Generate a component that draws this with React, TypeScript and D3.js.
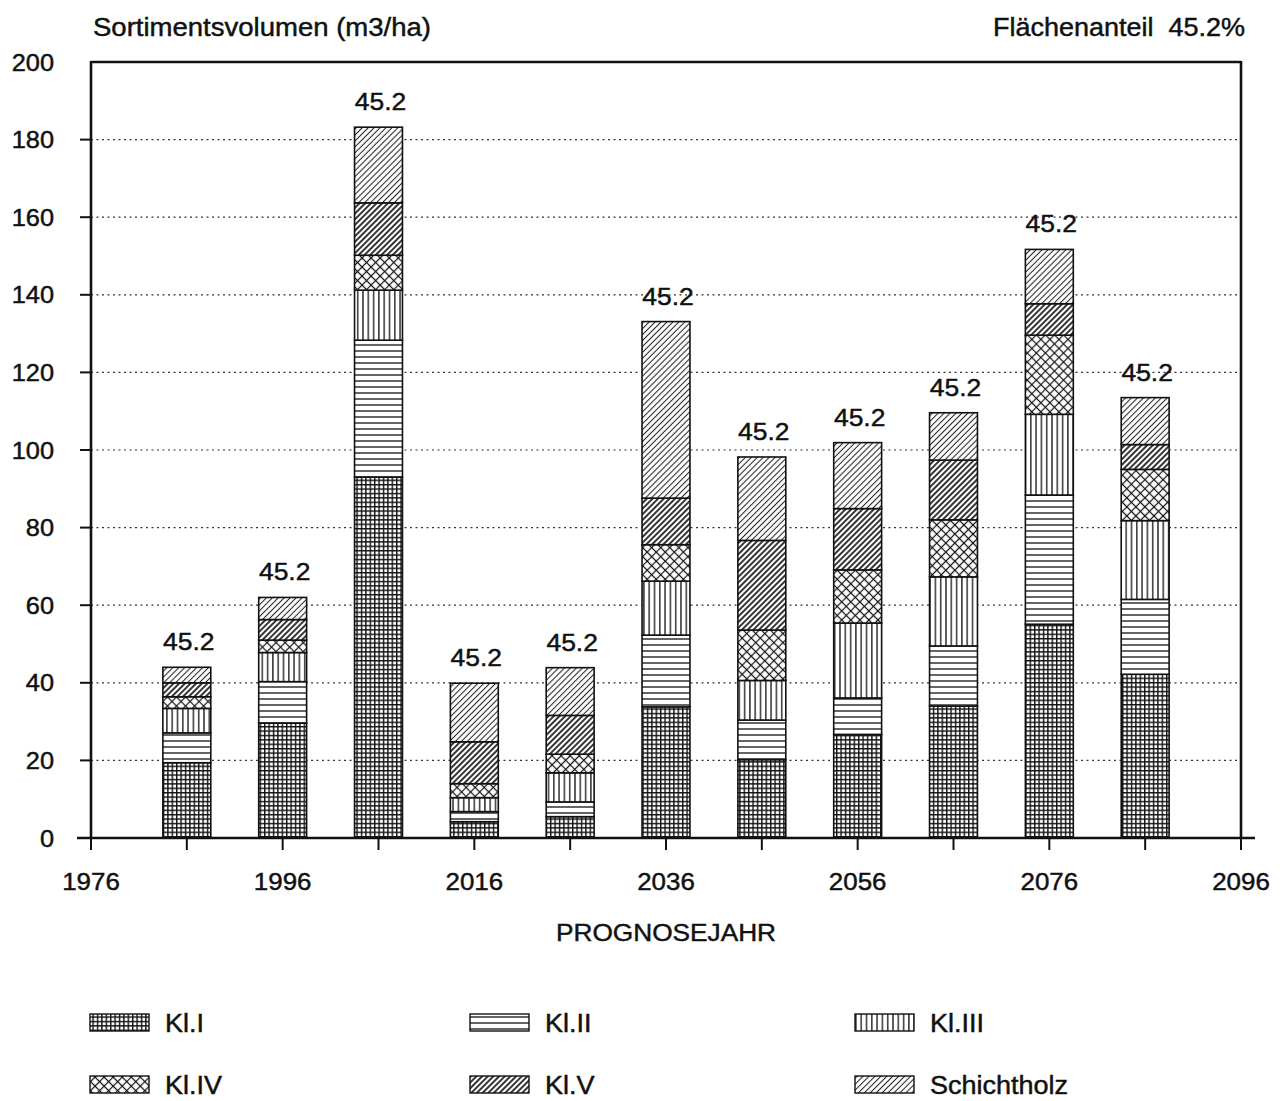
import React from 'react';
import * as d3 from 'd3';

// Prognose: Sortimentsvolumen je Stärkeklasse (m3/ha), Flächenanteil 45.2%
const years = [1986, 1996, 2006, 2016, 2026, 2036, 2046, 2056, 2066, 2076, 2086];
const kl1 = [19.4, 29.6, 93.0, 4.2, 5.5, 33.8, 20.2, 26.7, 34.0, 55.1, 42.2];
const kl2 = [7.7, 10.7, 35.3, 2.6, 3.8, 18.5, 10.2, 9.4, 15.5, 33.3, 19.3];
const kl3 = [6.3, 7.5, 12.9, 3.6, 7.5, 13.9, 10.2, 19.3, 17.8, 20.8, 20.3];
const kl4 = [3.0, 3.2, 9.0, 3.6, 4.8, 9.4, 13.0, 13.7, 14.7, 20.4, 13.2];
const kl5 = [3.6, 5.3, 13.5, 10.8, 10.0, 12.0, 23.1, 15.8, 15.4, 8.1, 6.4];
const schicht = [4.0, 5.7, 19.5, 15.1, 12.3, 45.5, 21.5, 17.0, 12.2, 14.0, 12.1];
const shares = ['45.2', '45.2', '45.2', '45.2', '45.2', '45.2', '45.2', '45.2', '45.2', '45.2', '45.2'];

const seriesKeys = ['k1', 'k2', 'k3', 'k4', 'k5', 'sh'];
const seriesNames = ['Kl.I', 'Kl.II', 'Kl.III', 'Kl.IV', 'Kl.V', 'Schichtholz'];
const yTicks = [0, 20, 40, 60, 80, 100, 120, 140, 160, 180, 200];
const xLabelTicks = [1976, 1996, 2016, 2036, 2056, 2076, 2096];

const FONT = '"Liberation Sans", Arial, Helvetica, sans-serif';
const SX = 1.08; // the scan is slightly stretched horizontally

const W = 1280;
const H = 1101;
const L = 91, R = 1241, T = 62, B = 838;

const rows = years.map((yr, i) => ({
  year: yr, k1: kl1[i], k2: kl2[i], k3: kl3[i], k4: kl4[i], k5: kl5[i], sh: schicht[i],
}));

const Txt: React.FC<{ x: number; y: number; size: number; anchor?: string; children: React.ReactNode }> = ({
  x, y, size, anchor = 'start', children,
}) => (
  <text
    transform={`translate(${x},${y}) scale(${SX},1)`}
    fontSize={size}
    textAnchor={anchor}
    fontFamily={FONT}
    fill="#111"
    stroke="#111"
    strokeWidth={0.45}
  >
    {children}
  </text>
);

const Patterns = () => (
  <defs>
    <pattern id="p-k1" width={4.4} height={4.4} patternUnits="userSpaceOnUse">
      <rect width={4.4} height={4.4} fill="#fff" />
      <line x1={0} y1={0.7} x2={4.4} y2={0.7} stroke="#111" strokeWidth={1.4} />
      <line x1={0.7} y1={0} x2={0.7} y2={4.4} stroke="#111" strokeWidth={1.4} />
    </pattern>
    <pattern id="p-k2" width={8} height={6} patternUnits="userSpaceOnUse">
      <rect width={8} height={6} fill="#fff" />
      <line x1={0} y1={3} x2={8} y2={3} stroke="#111" strokeWidth={1.3} />
    </pattern>
    <pattern id="p-k3" width={5.3} height={8} patternUnits="userSpaceOnUse">
      <rect width={5.3} height={8} fill="#fff" />
      <line x1={2.6} y1={0} x2={2.6} y2={8} stroke="#111" strokeWidth={1.3} />
    </pattern>
    <pattern id="p-k4" width={6.4} height={6.4} patternUnits="userSpaceOnUse" patternTransform="rotate(45)">
      <rect width={6.4} height={6.4} fill="#fff" />
      <line x1={0} y1={3.2} x2={6.4} y2={3.2} stroke="#111" strokeWidth={1.2} />
      <line x1={3.2} y1={0} x2={3.2} y2={6.4} stroke="#111" strokeWidth={1.2} />
    </pattern>
    <pattern id="p-k5" width={4} height={8} patternUnits="userSpaceOnUse" patternTransform="rotate(45)">
      <rect width={4} height={8} fill="#fff" />
      <line x1={2} y1={0} x2={2} y2={8} stroke="#111" strokeWidth={1.7} />
    </pattern>
    <pattern id="p-sh" width={4.2} height={8} patternUnits="userSpaceOnUse" patternTransform="rotate(45)">
      <rect width={4.2} height={8} fill="#fff" />
      <line x1={2.1} y1={0} x2={2.1} y2={8} stroke="#222" strokeWidth={1.05} />
    </pattern>
  </defs>
);

export default function App() {
  const x = d3.scaleLinear().domain([1976, 2096]).range([L, R]);
  const y = d3.scaleLinear().domain([0, 200]).range([B, T]);
  const stacked = d3.stack<any>().keys(seriesKeys)(rows);
  const halfW = 2.5;

  const legendCols = [90, 470, 855];
  const legendRows = [1014, 1076];

  return (
    <div style={{ position: 'absolute', left: 0, top: 0, width: W, height: H, background: '#fff' }}>
      <svg width={W} height={H} style={{ display: 'block' }}>
        <Patterns />
        <rect width={W} height={H} fill="#fff" />

        {/* titles */}
        <Txt x={93} y={36} size={25.5}>Sortimentsvolumen (m3/ha)</Txt>
        <Txt x={1245} y={36} size={25} anchor="end">Flächenanteil&#160;&#160;45.2%</Txt>

        {/* dotted grid */}
        {yTicks.filter(t => t > 0 && t < 200).map(t => (
          <line key={t} x1={L} x2={R} y1={y(t)} y2={y(t)} stroke="#333" strokeWidth={1.2} strokeDasharray="2,3.5" />
        ))}

        {/* stacked bars */}
        {stacked.map((s, si) => (
          <g key={seriesKeys[si]}>
            {s.map((d, i) => (
              <rect
                key={i}
                x={x(years[i] - halfW)}
                width={x(years[i] + halfW) - x(years[i] - halfW)}
                y={y(d[1])}
                height={y(d[0]) - y(d[1])}
                fill={`url(#p-${seriesKeys[si]})`}
                stroke="#111"
                strokeWidth={1.6}
              />
            ))}
          </g>
        ))}

        {/* share labels above bars */}
        {rows.map((r, i) => {
          const top = d3.sum(seriesKeys, k => (r as any)[k]);
          return (
            <Txt key={i} x={x(r.year) + 2} y={y(top) - 17} size={24.5} anchor="middle">{shares[i]}</Txt>
          );
        })}

        {/* frame / axes */}
        <line x1={L} x2={L} y1={T - 1} y2={B} stroke="#111" strokeWidth={2.6} />
        <line x1={L} x2={R} y1={T} y2={T} stroke="#111" strokeWidth={2.6} />
        <line x1={R} x2={R} y1={T - 1} y2={B} stroke="#111" strokeWidth={2.6} />
        <line x1={77} x2={1255} y1={B} y2={B} stroke="#111" strokeWidth={2.6} />

        {yTicks.map(t => (
          <g key={t}>
            {t > 0 && t < 200 && <line x1={80} x2={L} y1={y(t)} y2={y(t)} stroke="#111" strokeWidth={2} />}
            <Txt x={54} y={y(t) + 8.5} size={23.5} anchor="end">{t}</Txt>
          </g>
        ))}

        {d3.range(1976, 2097, 10).map(t => (
          <line key={t} x1={x(t)} x2={x(t)} y1={B} y2={B + 12} stroke="#111" strokeWidth={2} />
        ))}
        {xLabelTicks.map(t => (
          <Txt key={t} x={x(t)} y={890} size={24} anchor="middle">{t}</Txt>
        ))}

        <Txt x={(L + R) / 2} y={941} size={24.3} anchor="middle">PROGNOSEJAHR</Txt>

        {/* legend */}
        {seriesKeys.map((k, i) => {
          const lx = legendCols[i % 3];
          const ly = legendRows[Math.floor(i / 3)];
          return (
            <g key={k}>
              <rect x={lx} y={ly} width={59} height={17} fill={`url(#p-${k})`} stroke="#111" strokeWidth={1.4} />
              <Txt x={lx + 75} y={ly + 18} size={25}>{seriesNames[i]}</Txt>
            </g>
          );
        })}
      </svg>
    </div>
  );
}
